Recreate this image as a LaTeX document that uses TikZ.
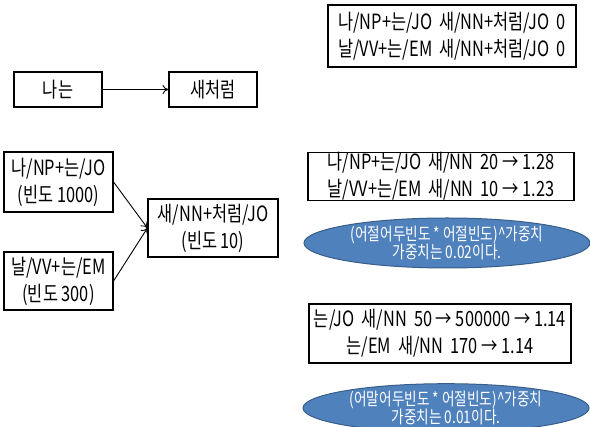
\documentclass[tikz,border=0pt]{standalone}
\usepackage{fontspec}
\setmainfont{Noto Sans CJK KR}[FakeStretch=0.78]
\usetikzlibrary{arrows.meta,shapes.geometric}
\newcommand{\gap}{\hspace{7pt}}
\tikzset{
  box/.style={draw=black, line width=1.1pt, align=center, inner sep=0pt, font=\fontsize{21}{27}\selectfont},
  oval/.style={ellipse, draw={rgb,255:red,56;green,93;blue,138}, line width=1pt, fill={rgb,255:red,79;green,129;blue,189}, text=white, align=center, inner sep=0pt, font=\fontsize{17.5}{18.5}\selectfont},
  link/.style={-{To[length=6pt,width=9pt]}, line width=0.9pt}
}
\begin{document}
\begin{tikzpicture}[x=1pt,y=-1pt]
\useasboundingbox (0,0) rectangle (590,427);
\node[box, minimum width=248pt, minimum height=62pt] (top) at (452,36) {나/NP+는/JO\gap 새/NN+처럼/JO\gap 0\\날/VV+는/EM\gap 새/NN+처럼/JO\gap 0};
\node[box, minimum width=88pt, minimum height=35pt] (a) at (58,89.5) {나는};
\node[box, minimum width=88pt, minimum height=35pt] (b) at (213,89.5) {새처럼};
\draw[link] (a) -- (b);
\node[box, minimum width=109pt, minimum height=60pt] (c1) at (58.5,182) {나/NP+는/JO\\(빈도 1000)};
\node[box, minimum width=109pt, minimum height=58pt] (c2) at (58.5,281) {날/VV+는/EM\\(빈도 300)};
\node[box, minimum width=130pt, minimum height=58pt] (c3) at (213,228) {새/NN+처럼/JO\\(빈도 10)};
\draw[link] (c1.east) -- (c3.west);
\draw[link] (c2.east) -- (c3.west);
\node[box, minimum width=266pt, minimum height=45pt] (d) at (441,176.5) {나/NP+는/JO\gap 새/NN\gap 20 → 1.28\\날/VV+는/EM\gap 새/NN\gap 10 → 1.23};
\node[oval, minimum width=286pt, minimum height=50pt] (e1) at (447,243) {(어절어두빈도 * 어절빈도)\^{}가중치\\가중치는 0.02이다.};
\node[box, minimum width=262pt, minimum height=59pt] (f) at (440,333.5) {는/JO\gap 새/NN\gap 50 → 500000 → 1.14\\는/EM\gap 새/NN\gap 170 → 1.14};
\node[oval, minimum width=286pt, minimum height=46pt] (e2) at (446,408) {(어말어두빈도 * 어절빈도)\^{}가중치\\가중치는 0.01이다.};
\end{tikzpicture}
\end{document}
